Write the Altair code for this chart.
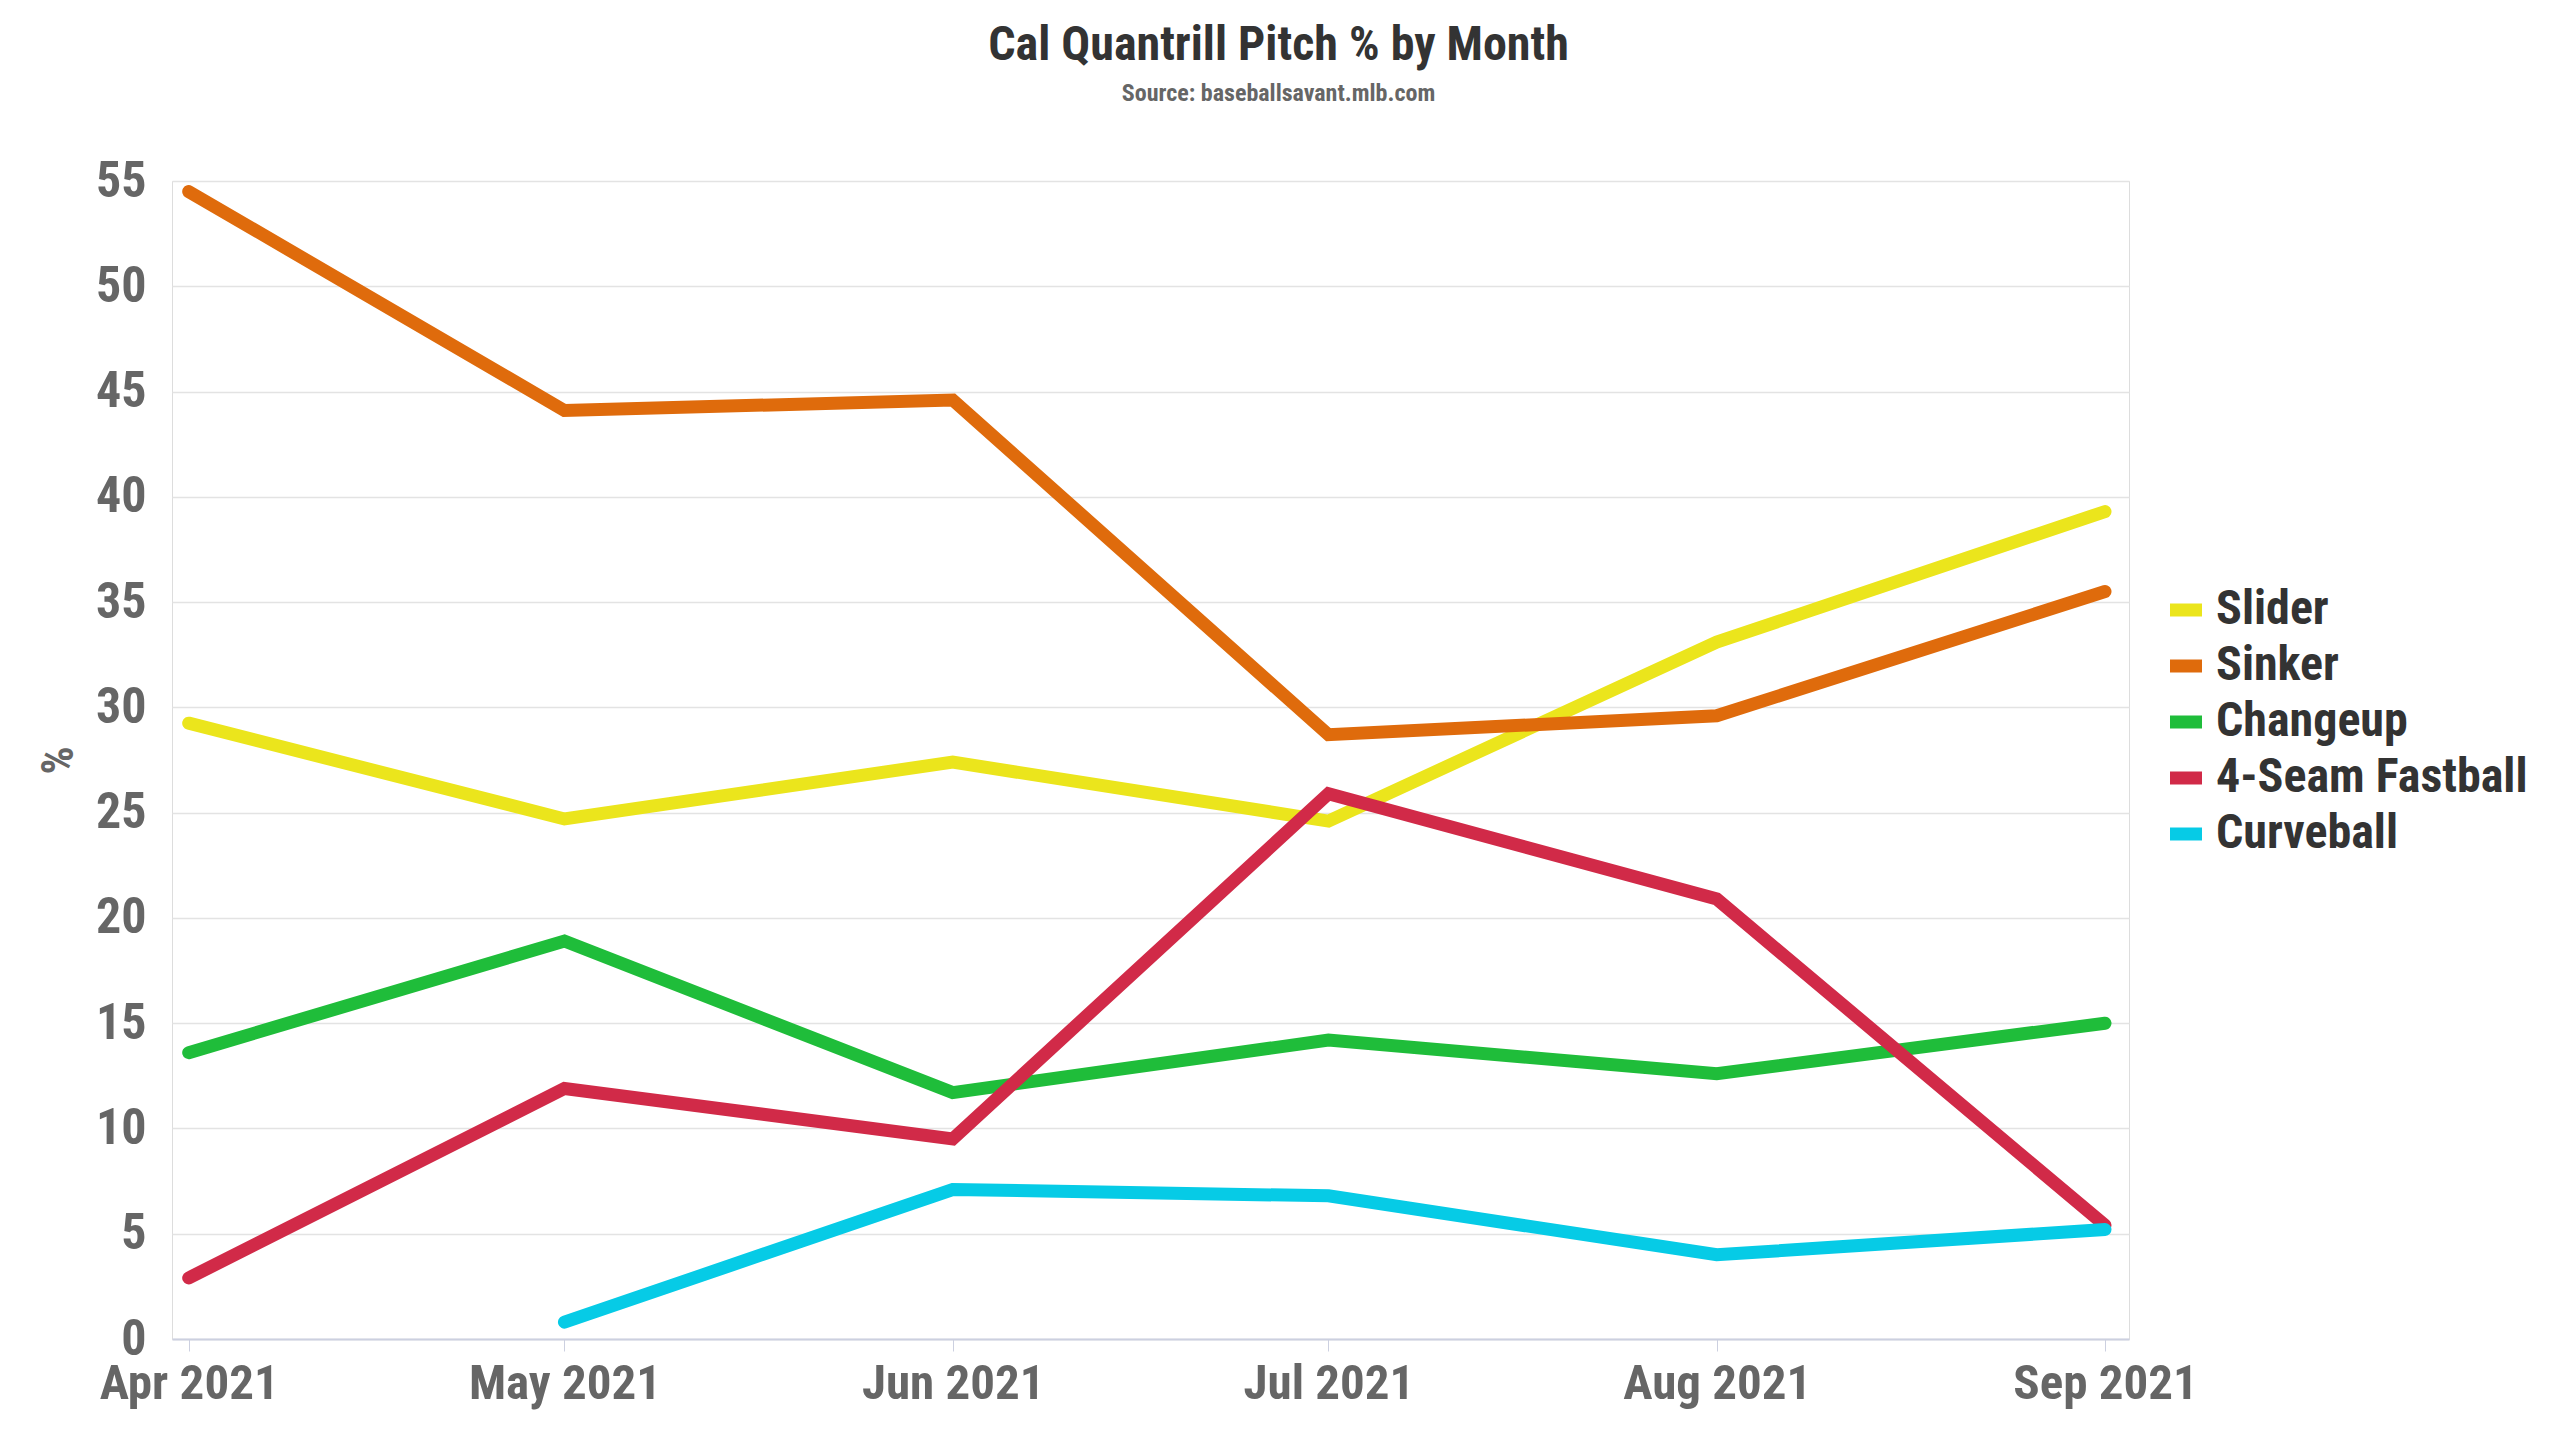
import altair as alt
import pandas as pd

months = ["2021-04-01", "2021-05-01", "2021-06-01", "2021-07-01", "2021-08-01", "2021-09-01"]
pitches = ["Slider", "Sinker", "Changeup", "4-Seam Fastball", "Curveball"]
colors = ["#ebe51c", "#df6b0c", "#1fbd3a", "#d12a48", "#06cbe6"]

slider = [29.25, 24.7, 27.4, 24.6, 33.1, 39.3]
sinker = [54.5, 44.1, 44.6, 28.7, 29.6, 35.5]
changeup = [13.6, 18.9, 11.7, 14.2, 12.6, 15.0]
fourseam = [2.9, 11.9, 9.5, 25.9, 20.9, 5.4]
curveball = [None, 0.8, 7.1, 6.8, 4.0, 5.2]

series = [slider, sinker, changeup, fourseam, curveball]
rows = []
for name, vals in zip(pitches, series):
    for m, v in zip(months, vals):
        if v is not None:
            rows.append({"month": m, "pitch": name, "pct": v})
df = pd.DataFrame(rows)

FONT = "Roboto Condensed, Liberation Sans Narrow, DejaVu Sans Condensed, sans-serif"

W, H = 1957, 1158

chart = alt.Chart(df).mark_line(strokeWidth=13, strokeCap="round", strokeJoin="miter").encode(
    x=alt.X("month:T", title=None,
            scale=alt.Scale(domain=[alt.DateTime(year=2021, month=3, date=30, hours=16, utc=True),
                                    alt.DateTime(year=2021, month=9, date=2, hours=22, utc=True)]),
            axis=alt.Axis(format="%b %Y", values=[alt.DateTime(year=2021, month=m, date=1, utc=True) for m in range(4, 10)],
                          labelFontSize=49, labelColor="#666666", labelFontWeight="bold",
                          labelFont=FONT, domainColor="#ccd0e0", domainWidth=2, labelLimit=0,
                          tickColor="#ccd0e0", tickSize=12, tickWidth=1,
                          labelPadding=8, grid=False, labelFlush=False)),
    y=alt.Y("pct:Q", title="%",
            scale=alt.Scale(domain=[0, 55], nice=False),
            axis=alt.Axis(values=list(range(0, 56, 5)), labelFontSize=50, labelColor="#666666",
                          labelFontWeight="bold", labelFont=FONT, domain=False, ticks=False,
                          labelPadding=26, gridColor="#e3e3e3", gridWidth=1.5,
                          titleFontSize=44, titleColor="#666666", titleFont=FONT,
                          titleFontWeight="bold", titlePadding=14)),
    color=alt.Color("pitch:N", sort=pitches,
                    scale=alt.Scale(domain=pitches, range=colors),
                    legend=alt.Legend(title=None, orient="none", legendX=W + 33, legendY=405,
                                      symbolType="stroke",
                                      symbolStrokeWidth=13, symbolSize=1024,
                                      labelFontSize=48, labelColor="#333333", labelLimit=0,
                                      labelFontWeight="bold", labelFont=FONT,
                                      rowPadding=4, labelOffset=6)),
).properties(
    width=W,
    height=H,
    padding={"left": 29, "top": 14, "right": 5, "bottom": 5},
    title=alt.TitleParams("Cal Quantrill Pitch % by Month",
                          subtitle="Source: baseballsavant.mlb.com",
                          fontSize=48, font=FONT, fontWeight="bold", color="#333333",
                          subtitleFontSize=24, subtitleFont=FONT, subtitleFontWeight="bold",
                          subtitleColor="#666666", anchor="middle", frame="group", dx=128,
                          subtitlePadding=12, offset=50),
).configure_view(stroke=None).configure(font=FONT)

chart.save("out.html", embed_options={"renderer": "svg", "actions": False})
